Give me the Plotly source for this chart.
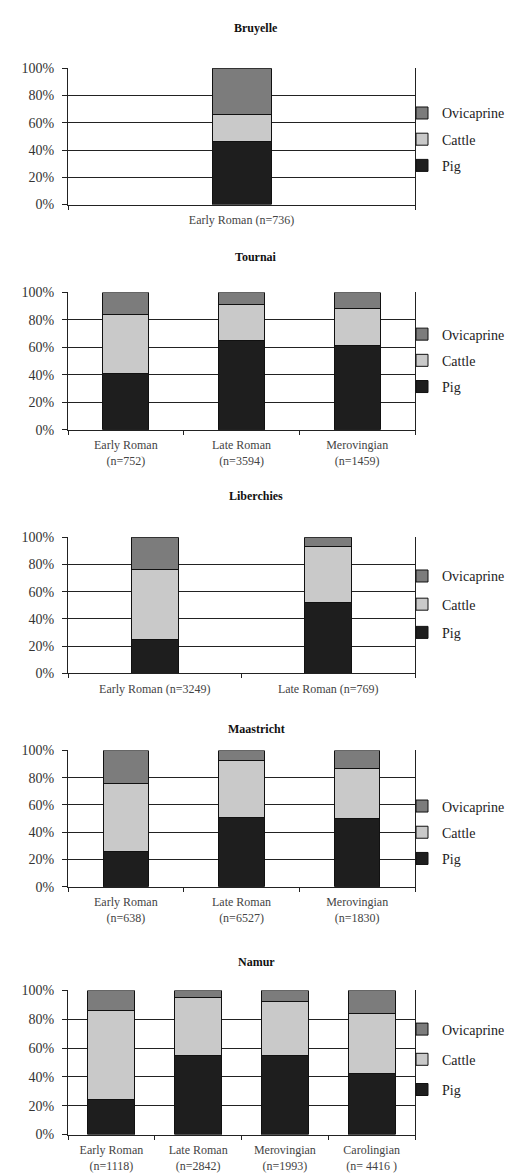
import plotly.graph_objects as go

# ---------------- data ----------------
sites = ["Bruyelle", "Tournai", "Liberchies", "Maastricht", "Namur"]

bruyelle_periods = ["Early Roman (n=736)"]
bruyelle_pig = [46]
bruyelle_cattle = [20]
bruyelle_ovi = [34]

tournai_periods = ["Early Roman<br>(n=752)", "Late Roman<br>(n=3594)", "Merovingian<br>(n=1459)"]
tournai_pig = [41, 65, 61]
tournai_cattle = [43, 26, 27]
tournai_ovi = [16, 9, 12]

liberchies_periods = ["Early Roman (n=3249)", "Late Roman (n=769)"]
liberchies_pig = [25, 52]
liberchies_cattle = [51, 41]
liberchies_ovi = [24, 7]

maastricht_periods = ["Early Roman<br>(n=638)", "Late Roman<br>(n=6527)", "Merovingian<br>(n=1830)"]
maastricht_pig = [26, 51, 50]
maastricht_cattle = [50, 42, 37]
maastricht_ovi = [24, 7, 13]

namur_periods = ["Early Roman<br>(n=1118)", "Late Roman<br>(n=2842)", "Merovingian<br>(n=1993)", "Carolingian<br>(n= 4416 )"]
namur_pig = [24, 55, 55, 42]
namur_cattle = [62, 40, 37, 42]
namur_ovi = [14, 5, 8, 16]

species = ["Pig", "Cattle", "Ovicaprine"]
legend_ranks = {"Ovicaprine": 1, "Cattle": 2, "Pig": 3}
y_ticks = [0, 20, 40, 60, 80, 100]
y_tick_labels = ["0%", "20%", "40%", "60%", "80%", "100%"]

# ---------------- layout helpers ----------------
W, H = 530, 1176
FONT = "Liberation Serif"
colors = {"Pig": "#1e1e1e", "Cattle": "#c9c9c9", "Ovicaprine": "#7c7c7c"}

panels = [
    dict(periods=bruyelle_periods, vals=[bruyelle_pig, bruyelle_cattle, bruyelle_ovi],
         top=54, bottom=192, bw=0.17, title_y=13, leg_y=126, gap=5),
    dict(periods=tournai_periods, vals=[tournai_pig, tournai_cattle, tournai_ovi],
         top=281, bottom=420, bw=0.40, title_y=245, leg_y=350, gap=5),
    dict(periods=liberchies_periods, vals=[liberchies_pig, liberchies_cattle, liberchies_ovi],
         top=529, bottom=667, bw=0.27, title_y=487, leg_y=597, gap=7),
    dict(periods=maastricht_periods, vals=[maastricht_pig, maastricht_cattle, maastricht_ovi],
         top=745, bottom=883, bw=0.39, title_y=723, leg_y=828, gap=5),
    dict(periods=namur_periods, vals=[namur_pig, namur_cattle, namur_ovi],
         top=988, bottom=1134, bw=0.54, title_y=959, leg_y=1058, gap=9),
]

X0, X1 = 60, 407

fig = go.Figure()
layout = dict(
    width=W, height=H, margin=dict(l=0, r=0, t=0, b=0),
    paper_bgcolor="white", plot_bgcolor="white",
    barmode="stack", font=dict(family=FONT, color="#222"),
    annotations=[],
)

for i, (site, p) in enumerate(zip(sites, panels)):
    n = i + 1
    sfx = "" if n == 1 else str(n)
    legname = "legend" if n == 1 else f"legend{n}"
    for sp, vals in zip(species, p["vals"]):
        fig.add_trace(go.Bar(
            x=p["periods"], y=vals, name=sp,
            width=p["bw"],
            marker=dict(color=colors[sp], line=dict(color="#111", width=1)),
            xaxis="x" + sfx, yaxis="y" + sfx,
            legend=legname, legendgroup=f"{site}-{sp}",
            legendrank=legend_ranks[sp],
            showlegend=True,
        ))
    layout["xaxis" + sfx] = dict(
        domain=[X0 / W, X1 / W], anchor="y" + sfx, type="category",
        showline=True, linecolor="#222", linewidth=1,
        ticks="outside", tickson="boundaries", ticklen=4, tickcolor="#222",
        tickfont=dict(family=FONT, size=12, color="#444"),
        ticklabelstandoff=4,
        showgrid=False, fixedrange=True,
    )
    layout["yaxis" + sfx] = dict(
        domain=[1 - p["bottom"] / H, 1 - p["top"] / H], anchor="x" + sfx,
        range=[0, 100], tickmode="array", tickvals=y_ticks, ticktext=y_tick_labels,
        showline=True, linecolor="#222", linewidth=1, mirror=True,
        ticks="outside", ticklen=5, tickcolor="#222",
        ticklabelstandoff=5,
        showgrid=True, gridcolor="#222", gridwidth=1,
        tickfont=dict(family=FONT, size=14, color="#333"),
        zeroline=False, fixedrange=True,
    )
    layout[legname] = dict(
        x=394 / W, xanchor="left", y=1 - p["leg_y"] / H, yanchor="middle",
        traceorder="grouped", tracegroupgap=p["gap"],
        font=dict(family=FONT, size=14, color="#222"),
        bgcolor="rgba(0,0,0,0)", borderwidth=0,
    )
    layout["annotations"].append(dict(
        text=f"<b>{site}</b>", x=248 / W, y=1 - p["title_y"] / H,
        xref="paper", yref="paper", xanchor="center", yanchor="middle",
        showarrow=False, font=dict(family=FONT, size=12, color="#111"),
    ))

fig.update_layout(**layout)
fig.write_html("out.html")
